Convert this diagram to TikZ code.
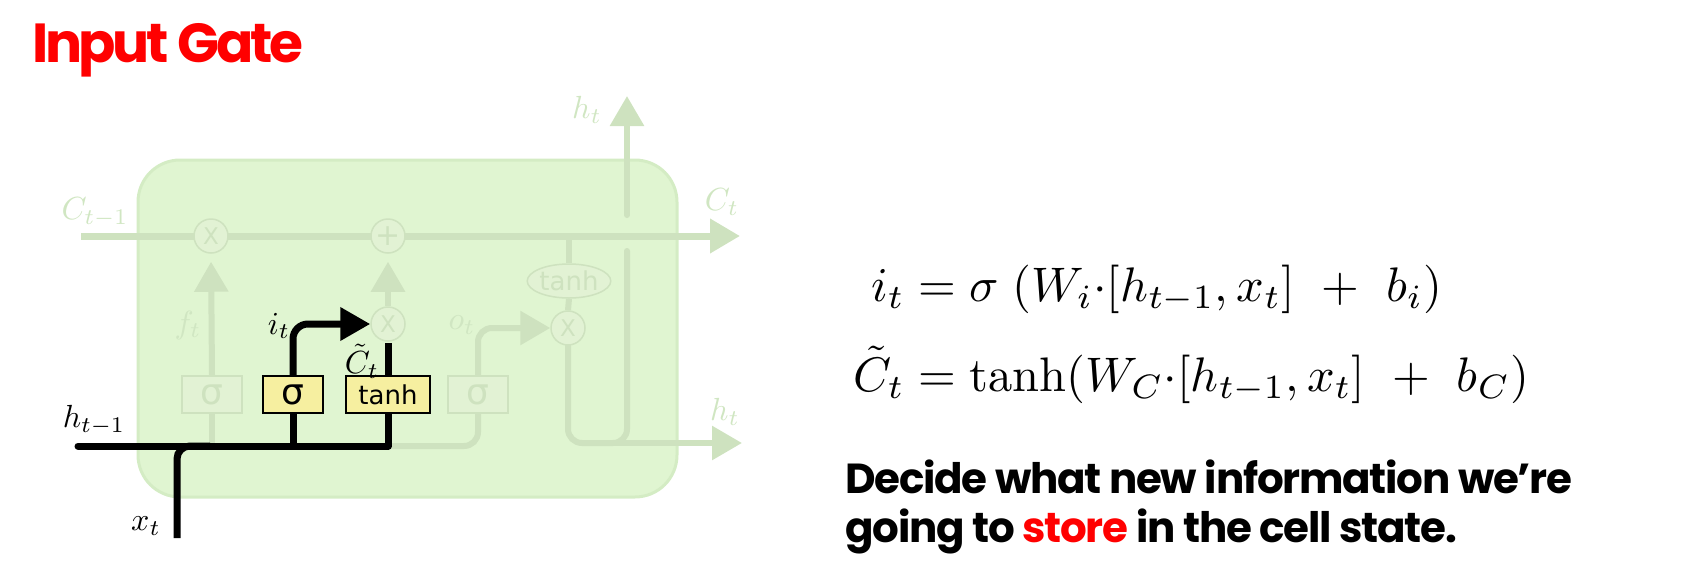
\documentclass[tikz,border=0pt]{standalone}
\usepackage{fontspec}
\usetikzlibrary{arrows.meta,shapes.geometric,calc}
\newfontfamily\popf{Poppins}[LetterSpace=-3]
\newfontfamily\popt{Poppins}[LetterSpace=-6]
\newfontfamily\djv{DejaVu Sans}
\definecolor{cellfill}{RGB}{224,245,209}
\definecolor{cellline}{RGB}{212,236,196}
\definecolor{fadedline}{RGB}{206,226,191}
\definecolor{fadedtext}{RGB}{208,230,194}
\definecolor{circfill}{RGB}{226,242,212}
\definecolor{gateyellow}{RGB}{246,239,160}
\definecolor{titlered}{RGB}{255,0,0}
\pgfdeclarelayer{celllayer}
\pgfdeclarelayer{fconn}
\pgfdeclarelayer{fnodes}
\pgfdeclarelayer{bconn}
\pgfsetlayers{celllayer,fconn,fnodes,bconn,main}
\tikzset{
  fadedln/.style={draw=fadedline, line width=6pt},
  cline/.style={draw=fadedline, line width=7pt},
  blk/.style={draw=black, line width=7pt},
  ftip/.style={-{Triangle[length=30pt,width=33pt]}},
  btip/.style={-{Triangle[length=30pt,width=32pt]}},
  pointop/.style={circle, draw=fadedline, fill=circfill, line width=1.5pt, minimum size=34pt, inner sep=0pt, text=fadedline, font=\djv\fontsize{23}{23}\selectfont},
  tanhell/.style={ellipse, draw=fadedline, fill=circfill, line width=1.5pt, minimum width=83pt, minimum height=34pt, inner sep=0pt, text=fadedline, tanhfont},
  gatebox/.style={draw, line width=2pt, minimum height=37pt, inner sep=0pt},
  activegate/.style={gatebox, draw=black, fill=gateyellow, text=black},
  fadedgate/.style={gatebox, draw=fadedline, fill=circfill, text=fadedline},
  sigfont/.style={font=\djv\fontsize{36}{36}\selectfont},
  tanhfont/.style={font=\djv\fontsize{26}{26}\selectfont},
  fadedlabel/.style={text=fadedtext, inner sep=0pt, font=\fontsize{10}{12}\selectfont, scale=3.2, transform shape},
  blklabel/.style={text=black, inner sep=0pt, font=\fontsize{10}{12}\selectfont, scale=3.2, transform shape},
  eqn/.style={inner sep=0pt, font=\fontsize{10}{12}\selectfont, scale=4.85, transform shape},
  bodytext/.style={inner sep=0pt, anchor=base west, font=\popf\bfseries\fontsize{42}{42}\selectfont}
}
\begin{document}
\begin{tikzpicture}[x=1pt,y=-1pt]
\useasboundingbox (0,0) rectangle (1687,579);
% cell
\begin{pgfonlayer}{celllayer}
\node[draw=cellline, fill=cellfill, line width=3pt, rounded corners=42pt,
      minimum width=539pt, minimum height=337pt, inner sep=0pt] (cell) at (407.5,328.5) {};
\end{pgfonlayer}
% coordinates
\coordinate (cin) at (81,236);
\coordinate (cout) at (740,236);
\coordinate (cbranch) at (569,236);
\coordinate (hin) at (78,446);
\coordinate (xin) at (177,538);
\coordinate (xturn) at (210,446);
\coordinate (hfj) at (212,446);
\coordinate (hbj) at (627,443);
\coordinate (hbs) at (612,443);
\coordinate (hout) at (742,443);
\coordinate (hvbot) at (627,251);
\coordinate (htopstart) at (627,215);
\coordinate (htop) at (627,96);
\coordinate (ctil) at (388,343);
% faded nodes
\begin{pgfonlayer}{fnodes}
\node[pointop] (mulf) at (211,236) {X};
\node[pointop, font=\djv\fontsize{30}{30}\selectfont] (addc) at (388,236) {+};
\node[pointop] (muli) at (388,324) {X};
\node[pointop] (mulo) at (568,328) {X};
\node[tanhell] (tanhe) at (569,281) {tanh};
\node[fadedgate, sigfont, minimum width=60pt] (sigf) at (212,394.5) {σ};
\node[fadedgate, sigfont, minimum width=60pt] (sigo) at (478,394.5) {σ};
\end{pgfonlayer}
% active gates
\node[activegate, sigfont, minimum width=60pt] (sigi) at (293,394.5) {σ};
\node[activegate, tanhfont, minimum width=84pt] (tanhg) at (388,394.5) {tanh};
% faded connectors
\begin{pgfonlayer}{fconn}
\draw[cline, ftip] (cin) -- (cout);
\draw[fadedln] (cbranch) -- (tanhe.north);
\draw[fadedln] (tanhe.south) -- (mulo.north);
\draw[fadedln, ftip, shorten >=8pt] (sigf.north) -- (mulf.south);
\draw[fadedln, ftip, shorten >=8pt] (muli.north) -- (addc.south);
\draw[fadedln] (sigf.south) -- (hfj);
\draw[fadedln, rounded corners=14pt] (ctil |- hin) -| (sigo.south);
\draw[fadedln, ftip, rounded corners=14pt] (sigo.north) |- (mulo.west);
\draw[fadedln, rounded corners=14pt, line cap=round] (mulo.south) |- (hbj) -- (hvbot);
\draw[fadedln, ftip] (hbs) -- (hout);
\draw[fadedln, ftip, line cap=round] (htopstart) -- (htop);
\end{pgfonlayer}
% black connectors
\begin{pgfonlayer}{bconn}
\draw[blk, line cap=round, line join=round] (hin) -| (tanhg.south);
\draw[blk] (sigi.south) -- (sigi.south |- hin);
\draw[blk, rounded corners=13pt] (xin) |- (xturn);
\draw[blk] (tanhg.north) -- (ctil);
\draw[blk, btip, rounded corners=15pt] (sigi.north) |- (muli.west);
\end{pgfonlayer}
% faded labels
\node[fadedlabel] (lcin) at (95,212) {$C_{t-1}$};
\node[fadedlabel] (lcout) at (722,202) {$C_t$};
\node[fadedlabel] (lhtop) at (587,110) {$h_t$};
\node[fadedlabel] (lhout) at (725,412) {$h_t$};
\node[fadedlabel] (lft) at (188,325) {$f_t$};
\node[fadedlabel] (lot) at (462,325) {$o_t$};
% black labels
\node[blklabel] (lit) at (279,326) {$i_t$};
\node[blklabel] (lct) at (362,361) {$\tilde{C}_t$};
\node[blklabel] (lhin) at (94,420) {$h_{t-1}$};
\node[blklabel] (lxt) at (146,526) {$x_t$};
% title
\node[inner sep=0pt, anchor=base west, text=titlered, font=\popt\bfseries\fontsize{55}{55}\selectfont] (title) at (32,62) {Input Gate};
% equations
\node[eqn, anchor=base west] (eq1) at (904,301) {${\makebox[0pt][r]{$i_t$}}=\sigma\;(W_i{\cdot}[h_{t-1},x_t]\ +\ b_i)$};
\node[eqn, anchor=base west] (eq2) at (904,391) {${\makebox[0pt][r]{$\tilde{C}_t$}}=\tanh(W_C{\cdot}[h_{t-1},x_t]\ +\ b_C)$};
% text
\node[bodytext] (txt1) at (845,493) {Decide what new information we’re};
\node[bodytext] (txt2) at (845,542) {going to \textcolor{titlered}{store} in the cell state.};
\end{tikzpicture}
\end{document}
